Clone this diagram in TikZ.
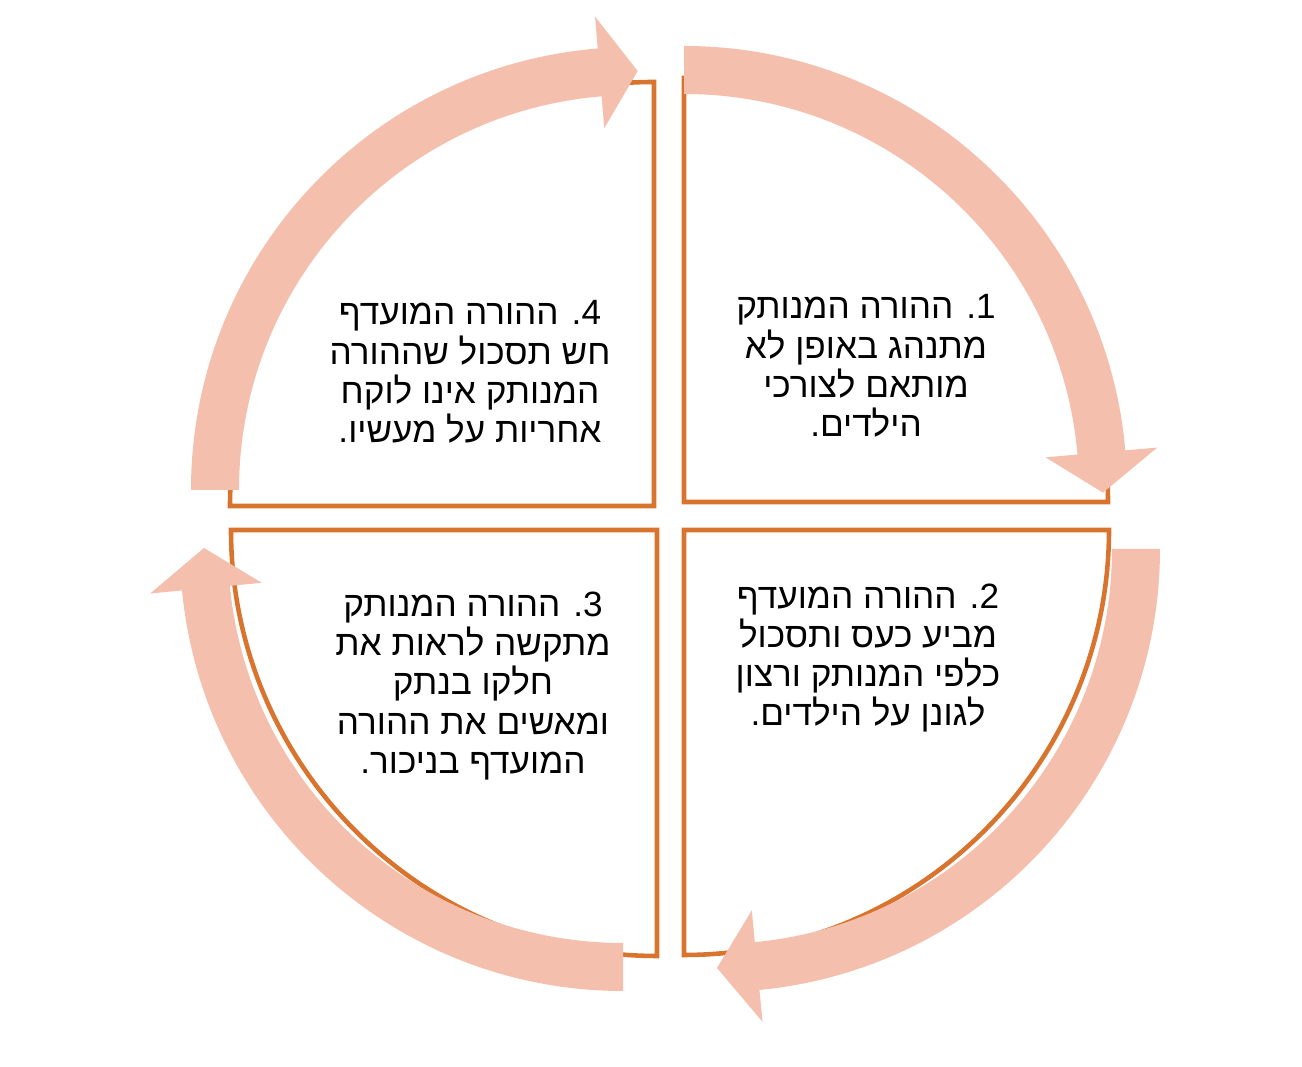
\documentclass[tikz,border=0pt]{standalone}
\usepackage{fontspec}
\newfontfamily\hebfont[Script=Hebrew]{Liberation Sans}
\TeXXeTstate=1
\definecolor{bandpink}{HTML}{F4BFAD}
\definecolor{rimorange}{HTML}{D9742F}
\tikzset{
  quarter/.style={draw=rimorange, line width=2.6pt, fill=white},
  band/.style={fill=bandpink},
  steptext/.style={font=\hebfont\fontsize{20}{22.3}\selectfont, align=center}
}

\begin{document}
\begin{tikzpicture}[x=0.02cm, y=0.02cm]

\useasboundingbox (0,0) rectangle (1302,1067);

% the four quarters
\foreach \cx/\cy/\a/\b/\r in {684/565/90/0/424, 684/537/-90/0/425, 657/537/180/270/426, 654/561/180/90/424}
    \draw[quarter] (\cx,\cy) -- ++(\a:\r) arc[start angle=\a, end angle=\b, radius=\r] -- cycle;

% the cycle arrows
\foreach \cx/\cy/\a/\b/\t in {684/578/90/5/-0.5, 717/518/0/-84.5/-90, 623/519/270/185.5/180, 634/577/180/94.7/89.5}
    \fill[band, shift={(\cx,\cy)}] (\a:395) arc[start angle=\a, end angle=\b, radius=395]
        -- (\b:363) -- (\t:419) -- (\b:475) -- (\b:443)
        arc[start angle=\b, end angle=\a, radius=443] -- cycle;

\node[steptext] (q1) at (866,701) {\beginR 1. ההורה המנותק\endR\\ \beginR מתנהג באופן לא\endR\\ \beginR מותאם לצורכי\endR\\ \beginR הילדים.\endR};
\node[steptext] (q2) at (868,409) {\beginR 2. ההורה המועדף\endR\\ \beginR מביע כעס ותסכול\endR\\ \beginR כלפי המנותק ורצון\endR\\ \beginR לגונן על הילדים.\endR};
\node[steptext] (q3) at (473,381) {\beginR 3. ההורה המנותק\endR\\ \beginR מתקשה לראות את\endR\\ \beginR חלקו בנתק\endR\\ \beginR ומאשים את ההורה\endR\\ \beginR המועדף בניכור.\endR};
\node[steptext] (q4) at (470,695) {\beginR 4. ההורה המועדף\endR\\ \beginR חש תסכול שההורה\endR\\ \beginR המנותק אינו לוקח\endR\\ \beginR אחריות על מעשיו.\endR};

\end{tikzpicture}
\end{document}
